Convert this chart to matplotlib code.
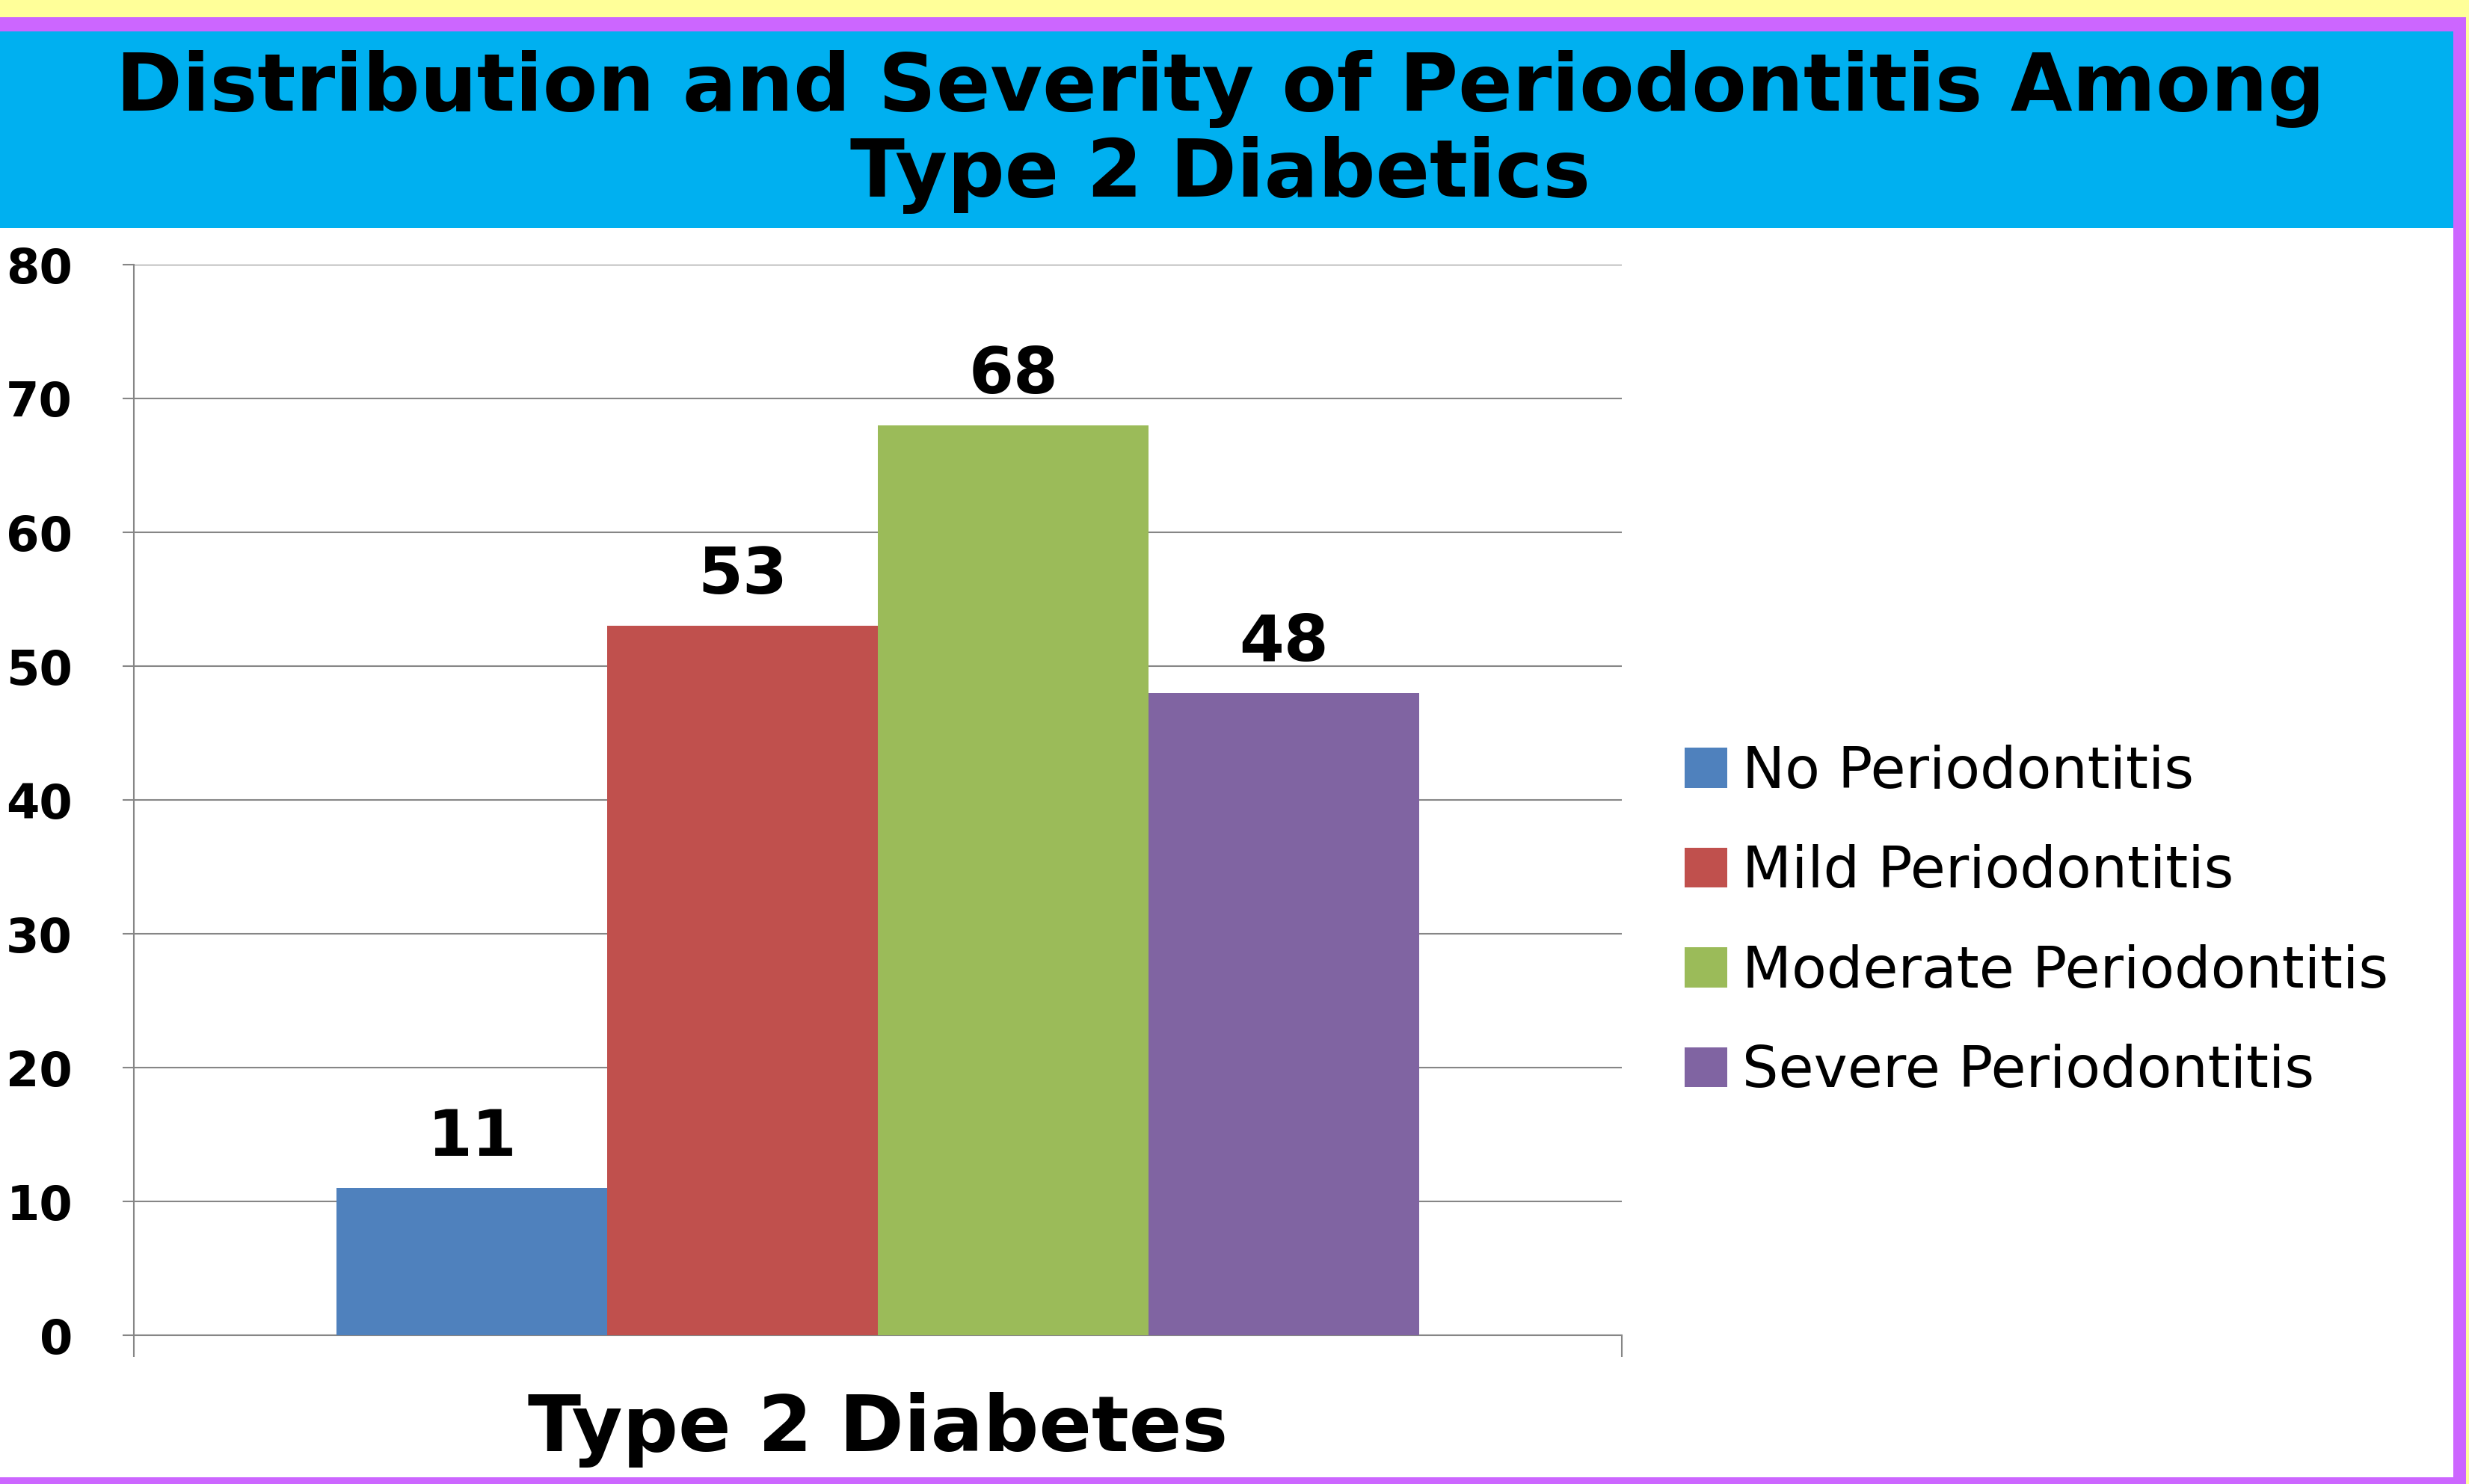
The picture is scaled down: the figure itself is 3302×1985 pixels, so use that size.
import numpy as np
import matplotlib
matplotlib.use("Agg")
import matplotlib.pyplot as plt
from matplotlib.patches import Rectangle

# data
categories = ["Type 2 Diabetes"]
series = ["No Periodontitis", "Mild Periodontitis",
          "Moderate Periodontitis", "Severe Periodontitis"]
values = [11, 53, 68, 48]
colors = ["#4F81BD", "#C0504D", "#9BBB59", "#8064A2"]
yticks = [0, 10, 20, 30, 40, 50, 60, 70, 80]

W, H = 3302, 1985
DPI = 100

# the reference text is wide, DejaVu is closer than Liberation here
plt.rcParams["font.family"] = ["DejaVu Sans"]

fig = plt.figure(figsize=(W / DPI, H / DPI), dpi=DPI, facecolor="#FFFF99")


def px_rect(x0, y0, x1, y1, color):
    "rectangle in pixel coords, y measured from the top"
    fig.patches.append(Rectangle((x0 / W, 1 - y1 / H), (x1 - x0) / W, (y1 - y0) / H,
                                 transform=fig.transFigure, color=color,
                                 zorder=-10, linewidth=0))


px_rect(0, 23, 3298, H, "#CC66FF")
px_rect(0, 42, 3281, 305, "#00B0F0")
px_rect(0, 305, 3281, 1976, "#FFFFFF")

fig.text(1632 / W, 1 - 148 / H, "Distribution and Severity of Periodontitis Among",
         ha="center", va="baseline", fontsize=77, fontweight="bold")
fig.text(1632 / W, 1 - 263 / H, "Type 2 Diabetics",
         ha="center", va="baseline", fontsize=77, fontweight="bold")

ax = fig.add_axes([179 / W, 1 - 1786 / H, (2169 - 179) / W, (1786 - 354) / H])
ax.set_facecolor("none")

bar_w = 0.182
x = np.arange(len(categories))
offsets = (np.arange(len(series)) - (len(series) - 1) / 2) * bar_w
for i, name in enumerate(series):
    bars = ax.bar(x + offsets[i], [values[i]], bar_w, color=colors[i],
                  label=name, zorder=3)
    ax.bar_label(bars, padding=18, fontsize=62, fontweight="bold")

ax.set_xlim(-0.5, 0.5)
ax.set_ylim(0, 80)
ax.set_yticks(yticks)
ax.grid(axis="y", color="#868686", linewidth=1.5, zorder=0)
ax.set_axisbelow(True)

for s in ["top", "right"]:
    ax.spines[s].set_visible(False)
for s in ["left", "bottom"]:
    ax.spines[s].set_color("#868686")
    ax.spines[s].set_linewidth(1.5)

ax.set_xticks([-0.5, 0.5])
ax.set_xticklabels(["", ""])
ax.tick_params(axis="x", length=21, width=1.5, color="#868686")
ax.tick_params(axis="y", length=11, width=1.5, color="#868686", pad=48,
               labelsize=46)
for t in ax.get_yticklabels():
    t.set_fontweight("bold")

ax.set_xlabel(categories[0], fontsize=75, fontweight="bold", labelpad=30)

ax.legend(loc="center left", bbox_to_anchor=(2253 / W, 1 - 1233 / H),
          bbox_transform=fig.transFigure, frameon=False, fontsize=55,
          handlelength=0.74, handleheight=0.7, handletextpad=0.27,
          labelspacing=0.78, borderpad=0, borderaxespad=0)

fig.savefig("out.png", dpi=DPI, facecolor=fig.get_facecolor())
